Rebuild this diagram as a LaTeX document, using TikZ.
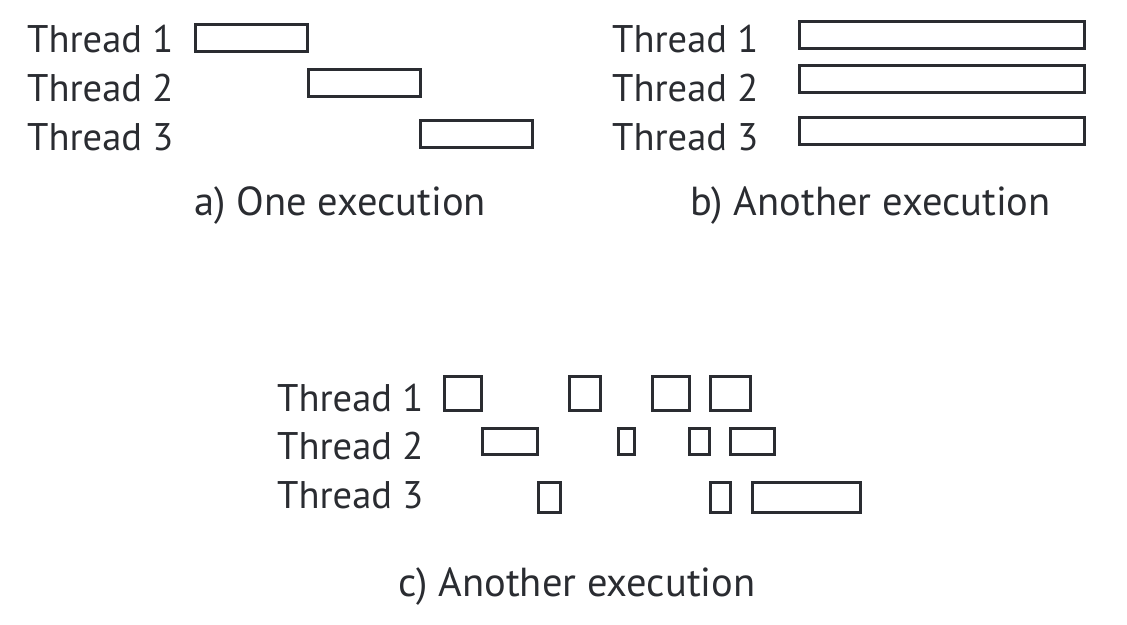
\documentclass[tikz,border=0pt]{standalone}
\usepackage{fontspec}
\setmainfont{PT Sans}
\usepackage[HTML]{xcolor}
\usepackage{tikz}
\usetikzlibrary{positioning}
\definecolor{ink}{HTML}{2A2C31}

\begin{document}
\begin{tikzpicture}[x=1pt, y=-1pt,
  lbl/.style={anchor=base west, inner sep=0pt, text=ink, font=\fontsize{38.5}{44}\selectfont},
  caption/.style={lbl, font=\fontsize{40.5}{46}\selectfont},
  slice/.style={draw=ink, line width=3.2pt}]
\useasboundingbox (0,0) rectangle (1127,624);

% a) one execution: threads run one after another
\node[lbl] (a1) at (27,52) {Thread 1};
\node[lbl] (a2) at (27,101) {Thread 2};
\node[lbl] (a3) at (27,150) {Thread 3};
\draw[slice] (195.5,24.5) rectangle (307.5,51.5);
\draw[slice] (308.5,69.5) rectangle (420.5,96.5);
\draw[slice] (420.5,120.5) rectangle (532.5,147.5);
\node[caption] (capa) at (194,215) {a) One execution};

% b) another execution: threads run side by side
\node[lbl] (b1) at (612,52) {Thread 1};
\node[lbl] (b2) at (612,101) {Thread 2};
\node[lbl] (b3) at (612,150) {Thread 3};
\draw[slice] (799.5,21.5) rectangle (1084.5,48.5);
\draw[slice] (799.5,65.5) rectangle (1084.5,92.5);
\draw[slice] (799.5,117.5) rectangle (1084.5,144.5);
\node[caption] (capb) at (690,215) {b) Another execution};

% c) another execution: interleaved slices
\node[lbl] (c1) at (277,411) {Thread 1};
\node[lbl] (c2) at (277,459) {Thread 2};
\node[lbl] (c3) at (277,508) {Thread 3};
\draw[slice] (444.5,376.5) rectangle (481.5,410.5);
\draw[slice] (569.5,376.5) rectangle (600.5,410.5);
\draw[slice] (652.5,376.5) rectangle (689.5,410.5);
\draw[slice] (710.5,376.5) rectangle (750.5,410.5);
\draw[slice] (482.5,428.5) rectangle (537.5,454.5);
\draw[slice] (618.5,428.5) rectangle (634.5,454.5);
\draw[slice] (689.5,428.5) rectangle (709.5,454.5);
\draw[slice] (730.5,428.5) rectangle (774.5,454.5);
\draw[slice] (538.5,482.5) rectangle (560.5,512.5);
\draw[slice] (710.5,482.5) rectangle (730.5,512.5);
\draw[slice] (752.5,482.5) rectangle (860.5,512.5);
\node[caption] (capc) at (398,596) {c) Another execution};
\end{tikzpicture}
\end{document}
